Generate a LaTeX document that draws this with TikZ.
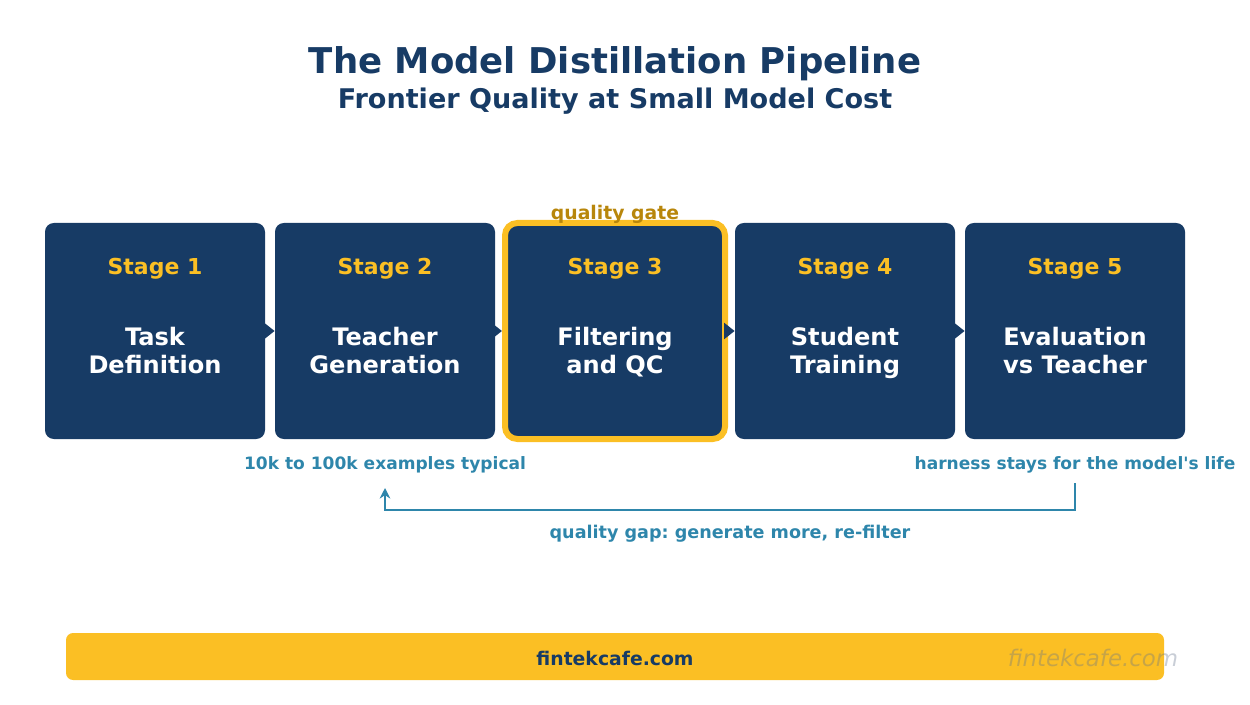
\documentclass[tikz,border=0pt]{standalone}
\usepackage{fontspec}
\setmainfont{DejaVu Sans}
\definecolor{stagenavy}{RGB}{23, 59, 101}
\definecolor{gateyellow}{RGB}{251, 191, 36}
\definecolor{gategold}{RGB}{184, 134, 11}
\definecolor{noteteal}{RGB}{46, 134, 171}
\definecolor{markslate}{RGB}{100, 116, 139}
\usetikzlibrary{arrows.meta, positioning, calc}
\frenchspacing

\begin{document}
\begin{tikzpicture}[
  stagebox/.style={draw=none, fill=stagenavy, rounded corners=5pt, minimum width=4.4cm, minimum height=4.32cm},
  stagenum/.style={text=gateyellow, font=\bfseries\fontsize{12.5}{14}\selectfont},
  stagename/.style={text=white, align=center, anchor=base, font=\bfseries\fontsize{13.7}{16}\selectfont},
  note/.style={text=noteteal, font=\bfseries\fontsize{9.7}{11}\selectfont},
  flow/.style={draw=stagenavy, line width=1.5pt, -{Triangle[length=6pt, width=9pt]}},
  fbline/.style={draw=noteteal, line width=1.6pt, -{Stealth[length=6pt, width=6pt]}}
]
  \useasboundingbox (0,0) rectangle (25,14.08);

  % title
  \node[text=stagenavy, font=\bfseries\fontsize{20.2}{23}\selectfont] (title) at (12.3, 12.8) {The Model Distillation Pipeline};
  \node[text=stagenavy, font=\bfseries\fontsize{15.4}{18}\selectfont] (subtitle) at (12.3, 12.06) {Frontier Quality at Small Model Cost};

  % stages
  \node[stagebox] (s1) at (3.1, 7.46) {};
  \node[stagebox] (s2) at (7.7, 7.46) {};
  \node[stagebox, draw=gateyellow, line width=0.12cm, rounded corners=7pt] (s3) at (12.3, 7.46) {};
  \node[stagebox] (s4) at (16.9, 7.46) {};
  \node[stagebox] (s5) at (21.5, 7.46) {};

  \foreach \i in {1,...,5} {
    \node[stagenum] (n\i) at ($(s\i.center)+(0,1.24)$) {Stage \i};
  }
  \node[stagename] (t1) at ($(s1.center)+(0,-0.86)$) {Task\\Definition};
  \node[stagename] (t2) at ($(s2.center)+(0,-0.86)$) {Teacher\\Generation};
  \node[stagename] (t3) at ($(s3.center)+(0,-0.86)$) {Filtering\\and QC};
  \node[stagename] (t4) at ($(s4.center)+(0,-0.86)$) {Student\\Training};
  \node[stagename] (t5) at ($(s5.center)+(0,-0.86)$) {Evaluation\\vs Teacher};

  \foreach \i/\j in {1/2, 2/3, 3/4, 4/5} {
    \draw[flow] (s\i.east) -- (s\j.west);
  }

  \node[text=gategold, font=\bfseries\fontsize{10.7}{12}\selectfont] (gate) at (12.3, 9.8) {quality gate};

  % notes and feedback loop
  \node[note] (note2) at (7.7, 4.78) {10k to 100k examples typical};
  \node[note] (note5) at (21.5, 4.78) {harness stays for the model\textquotesingle s life};
  \coordinate (fb-start) at (21.5, 4.42);
  \coordinate (fb-end) at (7.7, 4.32);
  \draw[fbline] (fb-start) -- ++(0,-0.54) -| (fb-end);
  \node[note, font=\bfseries\fontsize{10}{12}\selectfont] (fblabel) at (14.6, 3.4) {quality gap: generate more, re-filter};

  % footer
  \node[fill=gateyellow, rounded corners=4pt, minimum width=21.96cm, minimum height=0.94cm] (footer) at (12.3, 0.95) {};
  \node[text=stagenavy, font=\bfseries\fontsize{10.7}{12}\selectfont] (site) at (12.3, 0.92) {fintekcafe.com};
  \node[text=markslate, opacity=0.35, font=\itshape\fontsize{13}{15}\selectfont] (mark) at (21.86, 0.92) {fintekcafe.com};
\end{tikzpicture}
\end{document}
